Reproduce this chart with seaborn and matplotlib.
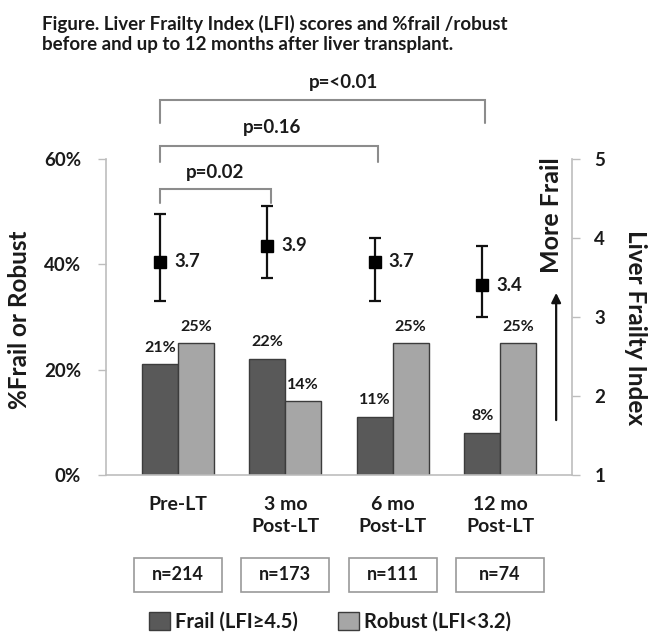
import matplotlib
matplotlib.use('Agg')
import matplotlib.pyplot as plt
import seaborn as sns
import pandas as pd
from matplotlib.patches import Rectangle

# ---- data ----
categories = ["Pre-LT", "3 mo\nPost-LT", "6 mo\nPost-LT", "12 mo\nPost-LT"]
series_names = ["Frail (LFI\u22654.5)", "Robust (LFI<3.2)"]
frail_pct = [21, 22, 11, 8]
robust_pct = [25, 14, 25, 25]
lfi_mean = [3.7, 3.9, 3.7, 3.4]
lfi_low = [3.2, 3.5, 3.2, 3.0]
lfi_high = [4.3, 4.4, 4.0, 3.9]
n_counts = [214, 173, 111, 74]
p_labels = ["p=0.02", "p=0.16", "p=<0.01"]
p_pairs = [(0, 1), (0, 2), (0, 3)]
left_ticks = [0, 20, 40, 60]
right_ticks = [1, 2, 3, 4, 5]
title = ("Figure. Liver Frailty Index (LFI) scores and %frail /robust\n"
         "before and up to 12 months after liver transplant.")

# ---- style ----
sns.set_theme(style="white")
plt.rcParams['font.family'] = ['Lato', 'DejaVu Sans']
plt.rcParams['font.weight'] = 'bold'
plt.rcParams['axes.labelweight'] = 'bold'

frail_color = "#595959"
robust_color = "#a6a6a6"
edge_color = "#3c3c3c"
axis_color = "#bdbdbd"
txt = "#1a1a1a"

W, H = 648, 636
fig = plt.figure(figsize=(W / 100, H / 100), dpi=100)
fig.patch.set_facecolor("white")
ax = fig.add_axes([106 / W, 1 - 475 / H, (572 - 106) / W, (475 - 159) / H])

df = pd.DataFrame({
    "cat": categories * 2,
    "pct": frail_pct + robust_pct,
    "series": [series_names[0]] * len(categories) + [series_names[1]] * len(categories),
})
bw = 0.67
sns.barplot(data=df, x="cat", y="pct", hue="series", order=categories,
            hue_order=series_names, palette=[frail_color, robust_color],
            width=bw, saturation=1, edgecolor=edge_color, linewidth=1.0, ax=ax)
handles, labels = ax.get_legend_handles_labels()
if ax.get_legend() is not None:
    ax.get_legend().remove()

ax.set_xlim(-0.67, len(categories) - 1 + 0.67)
ax.set_ylim(0, 60)
ax.set_yticks(left_ticks)
ax.set_yticklabels([f"{v}%" for v in left_ticks], fontsize=13.5, color=txt)
ax.set_xlabel("")
ax.set_ylabel("")
ax.tick_params(axis="y", left=True, length=6, width=1, color=axis_color, pad=12)
ax.tick_params(axis="x", bottom=False, pad=9, labelsize=14, labelcolor=txt)
for lab in ax.get_xticklabels():
    lab.set_linespacing(1.38)
    lab.set_va("top")
for s in ["top", "right"]:
    ax.spines[s].set_visible(False)
for s in ["left", "bottom"]:
    ax.spines[s].set_color(axis_color)
    ax.spines[s].set_linewidth(1.2)

# bar labels
for cont in ax.containers:
    for rect in cont:
        h = rect.get_height()
        ax.annotate(f"{h:.0f}%", (rect.get_x() + rect.get_width() / 2, h),
                    xytext=(0, 12), textcoords="offset points", ha="center",
                    va="center", fontsize=11.5, color=txt)

# secondary axis: LFI
ax2 = ax.twinx()
ax2.set_ylim(1, 5)
ax2.set_yticks(right_ticks)
ax2.set_yticklabels([str(v) for v in right_ticks], fontsize=13.5, color=txt)
ax2.tick_params(axis="y", right=True, length=6, width=1, color=axis_color, pad=10)
for s in ["top", "left", "bottom"]:
    ax2.spines[s].set_visible(False)
ax2.spines["right"].set_color(axis_color)
ax2.spines["right"].set_linewidth(1.2)

# axis titles
fig.text(20 / W, 1 - 320 / H, "%Frail or Robust", rotation=90, ha="center",
         va="center", fontsize=17.5, color=txt)
fig.text(636 / W, 1 - 328 / H, "Liver Frailty Index", rotation=270, ha="center",
         va="center", fontsize=17.5, color=txt)

xs = [i - bw / 4 for i in range(len(categories))]
yerr = [[m - lo for m, lo in zip(lfi_mean, lfi_low)],
        [hi - m for m, hi in zip(lfi_mean, lfi_high)]]
ax2.errorbar(xs, lfi_mean, yerr=yerr, fmt="s", color="black", ecolor="#111111",
             markersize=8.5, capsize=4, elinewidth=1.6, capthick=1.6, zorder=5)
for x, m in zip(xs, lfi_mean):
    ax2.text(x + 0.13, m, f"{m:.1f}", ha="left", va="center", fontsize=13.3,
             color=txt)

# "More Frail" arrow
ax2.annotate("", xy=(0.966, 0.585), xytext=(0.966, 0.165),
             xycoords="axes fraction", textcoords="axes fraction",
             arrowprops=dict(arrowstyle="-|>", color="#111111", lw=1.6,
                             mutation_scale=14))
ax2.text(0.957, 0.823, "More Frail", transform=ax2.transAxes, rotation=90,
         ha="center", va="center", fontsize=18, color=txt)

# significance brackets (in % units of left axis)
bracket_levels = [54.3, 62.5, 71.2]
bracket_drops = [2.6, 3.1, 4.3]
text_levels = [57.4, 65.9, 74.5]
text_shift = [0.0, 0.03, 0.19]
for (a, b), lab, lvl, dr, tl, sh in zip(p_pairs, p_labels, bracket_levels,
                                          bracket_drops, text_levels, text_shift):
    xa, xb = xs[a], xs[b] + 0.03
    ax.plot([xa, xa, xb, xb], [lvl - dr, lvl, lvl, lvl - dr], color="#8c8c8c",
            lw=1.5, clip_on=False, solid_joinstyle="miter")
    ax.text((xa + xb) / 2 + sh, tl, lab, ha="center", va="center",
            fontsize=13.5, color=txt, clip_on=False)

# n boxes
trans = ax.get_xaxis_transform()
box_w = 0.82
for i, n in enumerate(n_counts):
    ax.add_patch(Rectangle((i - box_w / 2, -0.370), box_w, 0.107,
                           transform=trans, clip_on=False, facecolor="white",
                           edgecolor="#9a9a9a", lw=1.2))
    ax.text(i, -0.316, f"n={n}", transform=trans, ha="center", va="center",
            fontsize=13, color=txt)

# title
fig.text(42 / W, 1 - 34 / H, title, ha="left", va="center", fontsize=13.5,
         color=txt, linespacing=1.22)

# legend
fig.legend(handles, labels, loc="center", bbox_to_anchor=(330 / W, 1 - 622 / H),
           ncol=2, frameon=False, fontsize=14.5, handlelength=1.05,
           handleheight=1.0, handletextpad=0.25, columnspacing=2.0,
           labelcolor=txt)

fig.savefig("out.png", dpi=100)
